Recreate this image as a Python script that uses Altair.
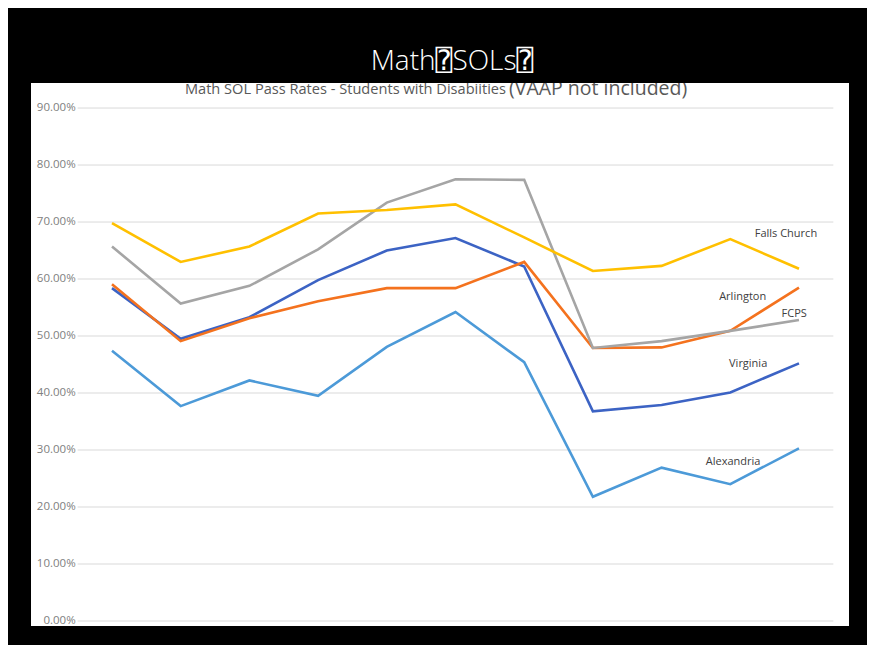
import altair as alt
import pandas as pd

# ---- data ----
points = list(range(11))  # 11 test administrations (x labels not shown)
series_names = ["Virginia", "Alexandria", "Arlington", "FCPS", "Falls Church"]
virginia = [58.4, 49.5, 53.3, 59.8, 65.0, 67.2, 62.2, 36.8, 37.9, 40.1, 45.2]
alexandria = [47.4, 37.7, 42.2, 39.5, 48.1, 54.2, 45.4, 21.8, 26.9, 24.0, 30.3]
arlington = [59.1, 49.1, 53.1, 56.1, 58.4, 58.4, 63.0, 47.9, 48.0, 50.9, 58.5]
fcps = [65.7, 55.7, 58.8, 65.2, 73.4, 77.5, 77.4, 47.9, 49.1, 50.9, 52.8]
falls_church = [69.8, 63.0, 65.7, 71.5, 72.1, 73.1, 67.3, 61.4, 62.3, 67.0, 61.8]
series_colors = ["#3C63C4", "#4C9AD8", "#F4721E", "#A5A5A5", "#FFC000"]

grid_ticks = [0, 10, 20, 30, 40, 50, 60, 70, 80, 90]

# direct line labels (anchor in data units)
label_names = ["Falls Church", "Arlington", "FCPS", "Virginia", "Alexandria"]
label_x = [9.81, 9.18, 9.93, 9.26, 9.04]
label_y = [67.9, 56.8, 53.9, 45.1, 27.9]

slide_title = "Math\u2370SOLs\u2370"
chart_title_1 = "Math SOL Pass Rates - Students with Disabiities"
chart_title_2 = "(VAAP not included)"

# ---- tables ----
values = {"Virginia": virginia, "Alexandria": alexandria, "Arlington": arlington,
          "FCPS": fcps, "Falls Church": falls_church}
rows = []
for name in series_names:
    for i, v in zip(points, values[name]):
        rows.append({"series": name, "idx": i, "value": v})
df = pd.DataFrame(rows)
grid_df = pd.DataFrame({"tick": grid_ticks})
lab_df = pd.DataFrame({"series": label_names, "lx": label_x, "ly": label_y})
one = pd.DataFrame({"k": [0]})

FONT = "Open Sans, DejaVu Sans"
xs = alt.Scale(domain=[-1.179, 10.728], nice=False, zero=False)
ys = alt.Scale(domain=[-0.877, 94.39], nice=False, zero=False)

grid = alt.Chart(grid_df).transform_calculate(
    gx0="-0.5", gx1="10.5"
).mark_rule(color="#D9D9D9", strokeWidth=1).encode(
    x=alt.X("gx0:Q", scale=xs, axis=None), x2="gx1:Q",
    y=alt.Y("tick:Q", scale=ys, axis=None)
)

ylabels = alt.Chart(grid_df).transform_calculate(
    lab="format(datum.tick / 100, '.2%')", gx0="-0.5"
).mark_text(align="right", baseline="middle", dx=-2, font=FONT, fontSize=11.5,
            color="#808080").encode(
    x=alt.X("gx0:Q", scale=xs, axis=None),
    y=alt.Y("tick:Q", scale=ys, axis=None), text="lab:N"
)

lines = alt.Chart(df).mark_line(strokeWidth=2.6).encode(
    x=alt.X("idx:Q", scale=xs, axis=None),
    y=alt.Y("value:Q", scale=ys, axis=None),
    color=alt.Color("series:N", scale=alt.Scale(domain=series_names, range=series_colors),
                    legend=None),
)

labels = alt.Chart(lab_df).mark_text(font=FONT, fontSize=11, color="#404040",
                                     baseline="middle").encode(
    x=alt.X("lx:Q", scale=xs, axis=None),
    y=alt.Y("ly:Q", scale=ys, axis=None),
    text="series:N",
)

t1 = alt.Chart(one).mark_text(align="right", baseline="alphabetic", font=FONT,
                              fontSize=14.6, color="#595959", clip=True).encode(
    x=alt.value(475), y=alt.value(11), text=alt.value(chart_title_1)
)
t2 = alt.Chart(one).mark_text(align="left", baseline="alphabetic", font=FONT,
                              fontSize=19.5, color="#595959", clip=True).encode(
    x=alt.value(478), y=alt.value(12), text=alt.value(chart_title_2)
)

chart = alt.layer(grid, ylabels, lines, labels, t1, t2).properties(
    width=818,
    height=543,
    background="black",
    padding={"left": 23, "top": 75, "right": 18, "bottom": 19},
    autosize=alt.AutoSizeParams(type="none"),
    title=alt.TitleParams(
        text=slide_title, color="white", fontSize=28,
        font="Open Sans, DejaVu Sans Mono, DejaVu Sans",
        fontWeight=300, anchor="middle", offset=7, dx=12,
        frame="group"
    ),
).configure_view(fill="white", stroke=None)

chart.save("out.html", embed_options={"renderer": "svg", "actions": False})
